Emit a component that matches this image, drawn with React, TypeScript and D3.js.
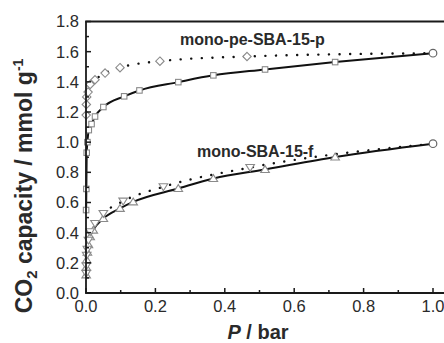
import React from "react";
import * as d3 from "d3";

// CO2 uptake isotherms, pressure in bar vs capacity in mmol/g
const peSolidP = [0.0003, 0.001, 0.002, 0.004, 0.008, 0.016, 0.026, 0.05, 0.11, 0.154, 0.266, 0.367, 0.516, 0.718, 1.0];
const peSolidQ = [0.55, 0.69, 0.93, 1.0, 1.08, 1.12, 1.17, 1.233, 1.304, 1.343, 1.398, 1.443, 1.482, 1.531, 1.59];

const peDotP = [0.0005, 0.001, 0.002, 0.006, 0.012, 0.026, 0.055, 0.098, 0.213, 0.464, 1.0];
const peDotQ = [1.18, 1.25, 1.3, 1.332, 1.383, 1.414, 1.458, 1.494, 1.537, 1.568, 1.59];

const fSolidP = [0.0005, 0.001, 0.002, 0.004, 0.007, 0.012, 0.021, 0.05, 0.098, 0.136, 0.266, 0.367, 0.516, 0.718, 1.0];
const fSolidQ = [0.12, 0.17, 0.22, 0.27, 0.32, 0.373, 0.417, 0.494, 0.561, 0.604, 0.693, 0.759, 0.819, 0.902, 0.99];

const fDotP = [0.0005, 0.001, 0.002, 0.004, 0.007, 0.012, 0.026, 0.05, 0.107, 0.223, 0.473, 1.0];
const fDotQ = [0.13, 0.18, 0.25, 0.29, 0.35, 0.406, 0.461, 0.527, 0.609, 0.704, 0.832, 0.99];

const xTickLabels = ["0.0", "0.2", "0.4", "0.6", "0.8", "1.0"];
const yTickLabels = ["0.0", "0.2", "0.4", "0.6", "0.8", "1.0", "1.2", "1.4", "1.6", "1.8"];

const W = 444;
const H = 343;
const FONT = "'Liberation Sans', Arial, sans-serif";

const x = d3.scaleLinear().domain([0, 1]).range([86, 433]);
const y = d3.scaleLinear().domain([0, 1.8]).range([293, 21.5]);

type Pt = [number, number];
const zip = (a: number[], b: number[]): Pt[] => a.map((v, i) => [v, b[i]]);

const line = d3
  .line<Pt>()
  .x((d) => x(d[0]))
  .y((d) => y(d[1]))
  .curve(d3.curveMonotoneX);

const MARK = "#8a8a8a";

function Square({ p }: { p: Pt }) {
  const s = 5.5;
  return (
    <rect x={x(p[0]) - s / 2} y={y(p[1]) - s / 2} width={s} height={s} fill="#fff" stroke={MARK} strokeWidth={1.1} />
  );
}

function Diamond({ p }: { p: Pt }) {
  const cx = x(p[0]);
  const cy = y(p[1]);
  const r = 4.2;
  return (
    <polygon
      points={`${cx},${cy - r} ${cx + r},${cy} ${cx},${cy + r} ${cx - r},${cy}`}
      fill="#fff"
      stroke={MARK}
      strokeWidth={1.1}
    />
  );
}

function Tri({ p, down }: { p: Pt; down?: boolean }) {
  const cx = x(p[0]);
  const cy = y(p[1]);
  const r = 4.3;
  const pts = down
    ? `${cx - r},${cy - r * 0.7} ${cx + r},${cy - r * 0.7} ${cx},${cy + r * 0.9}`
    : `${cx - r},${cy + r * 0.7} ${cx + r},${cy + r * 0.7} ${cx},${cy - r * 0.9}`;
  return <polygon points={pts} fill="#fff" stroke={MARK} strokeWidth={1.1} />;
}

export default function App() {
  const peSolid = zip(peSolidP, peSolidQ);
  const peDot = zip(peDotP, peDotQ);
  const fSolid = zip(fSolidP, fSolidQ);
  const fDot = zip(fDotP, fDotQ);

  const xMajor = d3.range(0, 6).map((i) => i * 0.2);
  const xMinor = d3.range(0, 5).map((i) => i * 0.2 + 0.1);
  const yMajor = d3.range(0, 10).map((i) => i * 0.2);
  const yMinor = d3.range(0, 9).map((i) => i * 0.2 + 0.1);

  const axisColor = "#1a1a1a";
  const textColor = "#2a2a2a";

  return (
    <div style={{ position: "absolute", left: 0, top: 0 }}>
      <svg width={W} height={H} style={{ display: "block", background: "#fff" }}>
        {/* fitted curves */}
        <path d={line(peSolid) ?? ""} fill="none" stroke="#111" strokeWidth={2} />
        <path d={line(fSolid) ?? ""} fill="none" stroke="#111" strokeWidth={2} />
        <path
          d={line(peDot) ?? ""}
          fill="none"
          stroke="#111"
          strokeWidth={2.4}
          strokeDasharray="0.1 10.5"
          strokeLinecap="round"
        />
        <path
          d={line(fDot) ?? ""}
          fill="none"
          stroke="#111"
          strokeWidth={2.4}
          strokeDasharray="0.1 10.5"
          strokeLinecap="round"
        />

        {/* markers */}
        {peSolid.slice(0, -1).map((p, i) => (
          <Square key={`s${i}`} p={p} />
        ))}
        {peDot.slice(0, -1).map((p, i) => (
          <Diamond key={`d${i}`} p={p} />
        ))}
        {fSolid.slice(0, -1).map((p, i) => (
          <Tri key={`u${i}`} p={p} />
        ))}
        {fDot.slice(0, -1).map((p, i) => (
          <Tri key={`v${i}`} p={p} down />
        ))}
        {[peSolid[peSolid.length - 1], fSolid[fSolid.length - 1]].map((p, i) => (
          <circle key={`c${i}`} cx={x(p[0])} cy={y(p[1])} r={3.8} fill="#fff" stroke="#666" strokeWidth={1.2} />
        ))}

        {/* frame */}
        <line x1={x(0)} x2={x(0)} y1={y(1.8)} y2={y(0)} stroke={axisColor} strokeWidth={1.8} />
        <line x1={x(0) - 0.9} x2={W} y1={y(0)} y2={y(0)} stroke={axisColor} strokeWidth={1.8} />
        <line x1={x(0) - 0.9} x2={W} y1={y(1.8)} y2={y(1.8)} stroke={axisColor} strokeWidth={1.8} />

        {/* x ticks (inward) */}
        {xMajor.map((v) => (
          <line key={`xm${v}`} x1={x(v)} x2={x(v)} y1={y(0)} y2={y(0) - 5} stroke={axisColor} strokeWidth={1.5} />
        ))}
        {xMinor.map((v) => (
          <line key={`xn${v}`} x1={x(v)} x2={x(v)} y1={y(0)} y2={y(0) - 3} stroke={axisColor} strokeWidth={1.5} />
        ))}
        {/* y ticks (inward) */}
        {yMajor.map((v) => (
          <line key={`ym${v}`} x1={x(0)} x2={x(0) + 5} y1={y(v)} y2={y(v)} stroke={axisColor} strokeWidth={1.5} />
        ))}
        {yMinor.map((v) => (
          <line key={`yn${v}`} x1={x(0)} x2={x(0) + 3} y1={y(v)} y2={y(v)} stroke={axisColor} strokeWidth={1.5} />
        ))}

        {/* tick labels */}
        {xMajor.map((v, i) => (
          <text
            key={`xl${i}`}
            x={x(v)}
            y={312}
            textAnchor="middle"
            fontFamily={FONT}
            fontSize={16.5}
            fill={textColor}
          >
            {xTickLabels[i]}
          </text>
        ))}
        {yMajor.map((v, i) => (
          <text
            key={`yl${i}`}
            x={79}
            y={y(v)}
            dy="0.36em"
            textAnchor="end"
            fontFamily={FONT}
            fontSize={16.5}
            fill={textColor}
          >
            {yTickLabels[i]}
          </text>
        ))}

        {/* axis titles */}
        <text x={258} y={339} textAnchor="middle" fontFamily={FONT} fontSize={20} fontWeight="bold" fill={textColor}>
          <tspan fontStyle="italic">P</tspan> / bar
        </text>
        <text
          transform={`translate(32,${186}) rotate(-90)`}
          textAnchor="middle"
          fontFamily={FONT}
          fontSize={23}
          fontWeight="bold"
          fill={textColor}
        >
          CO<tspan fontSize={15} dy={5}>2</tspan>
          <tspan dy={-5}> capacity / mmol g</tspan>
          <tspan fontSize={14} dy={-9}>-1</tspan>
        </text>

        {/* series labels */}
        <text x={180} y={45} fontFamily={FONT} fontSize={16} fontWeight="bold" fill={textColor}>
          mono-pe-SBA-15-p
        </text>
        <text x={197} y={157} fontFamily={FONT} fontSize={16} fontWeight="bold" fill={textColor}>
          mono-SBA-15-f
        </text>
      </svg>
    </div>
  );
}
